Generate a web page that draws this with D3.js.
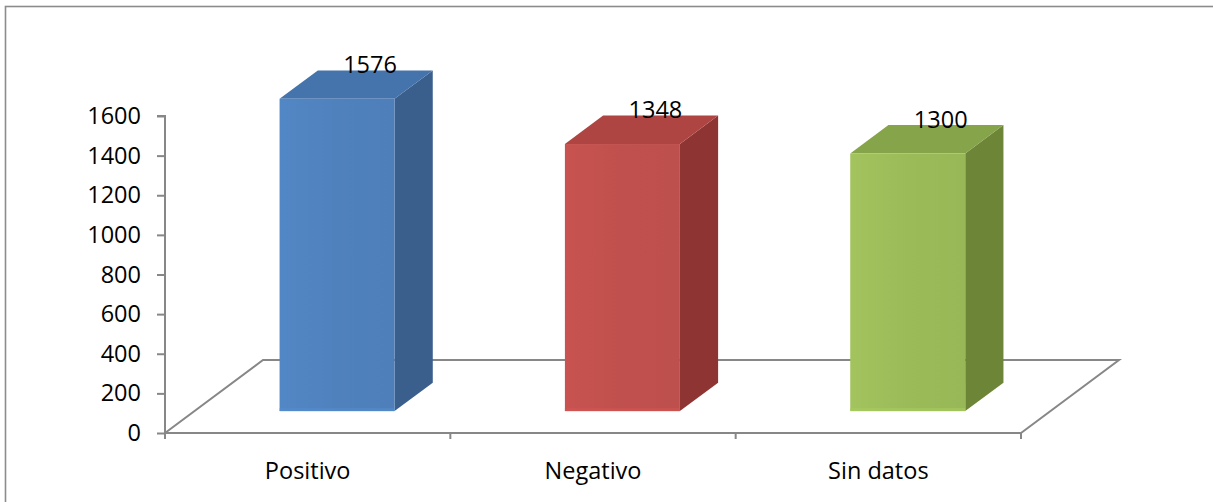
<!DOCTYPE html>
<html>
<head>
<meta charset="utf-8">
<script src="https://cdn.jsdelivr.net/npm/d3@7"></script>
<style>
  html, body { margin: 0; padding: 0; background: #fff; }
  svg { display: block; }
  text { font-family: "Open Sans", "Noto Sans", sans-serif; fill: #000; }
</style>
</head>
<body>
<svg id="chart" width="1213" height="502"></svg>
<script>
// Chart data
const categories = ["Positivo", "Negativo", "Sin datos"];
const values = [1576, 1348, 1300];
const yTicks = [0, 200, 400, 600, 800, 1000, 1200, 1400, 1600];

// Bar palettes: front, side, top
const frontColors = ["#4F81BD", "#C0504D", "#9BBB59"];
const sideColors  = ["#3A5F8D", "#8E3533", "#6C8536"];
const topColors   = ["#4573AC", "#AE4542", "#86A449"];

const fontSize = 23.5;
const svg = d3.select("#chart");

// Plot geometry (front plane of the floor)
const plot = { left: 165, right: 1021, top: 116, bottom: 433 };
const depth = { dx: 98, dy: -73 };           // floor depth vector
const barDepthStart = 0.30, barDepthSize = 0.39;

const x = d3.scaleBand().domain(categories).range([plot.left, plot.right]).paddingInner(0).paddingOuter(0);
const y = d3.scaleLinear().domain([0, 1600]).range([plot.bottom, plot.top]);

// Outer frame
svg.append("rect")
  .attr("x", 5.5).attr("y", 6.5).attr("width", 1400).attr("height", 700)
  .attr("fill", "none").attr("stroke", "#8c8c8c").attr("stroke-width", 1.6);

const gridColor = "#878787";

// Floor outline
const floorPts = [
  [plot.left, plot.bottom],
  [plot.left + depth.dx, plot.bottom + depth.dy],
  [plot.right + depth.dx, plot.bottom + depth.dy],
  [plot.right, plot.bottom]
];
svg.append("path")
  .attr("d", d3.line()(floorPts))
  .attr("fill", "none").attr("stroke", gridColor).attr("stroke-width", 2);

// Value axis
const yAxis = svg.append("g")
  .attr("transform", `translate(${plot.left},0)`)
  .call(d3.axisLeft(y).tickValues(yTicks).tickSize(8).tickPadding(16).tickFormat(d3.format("d")));
yAxis.select(".domain").attr("stroke", gridColor).attr("stroke-width", 2)
  .attr("d", `M-8,${y(1600)}H0V${y(0)}`);
yAxis.selectAll(".tick line").attr("stroke", gridColor).attr("stroke-width", 2);
yAxis.selectAll(".tick text")
  .attr("font-size", fontSize).attr("font-family", "Open Sans, sans-serif").attr("fill", "#000");

// Category axis
const xAxis = svg.append("g")
  .attr("transform", `translate(0,${plot.bottom})`)
  .call(d3.axisBottom(x).tickSize(0).tickPadding(29));
xAxis.select(".domain").attr("stroke", gridColor).attr("stroke-width", 2)
  .attr("d", `M${plot.left},0H${plot.right}`);
xAxis.selectAll(".tick text")
  .attr("font-size", fontSize).attr("font-family", "Open Sans, sans-serif").attr("fill", "#000");
// Category separators
const bounds = categories.map(c => x(c)).concat([plot.right]);
svg.append("g").selectAll("line").data(bounds).join("line")
  .attr("x1", d => d).attr("x2", d => d)
  .attr("y1", plot.bottom).attr("y2", plot.bottom + 6)
  .attr("stroke", gridColor).attr("stroke-width", 2);

// Gradients for front faces
const defs = svg.append("defs");
frontColors.forEach((c, i) => {
  const g = defs.append("linearGradient").attr("id", "front" + i)
    .attr("x1", 0).attr("x2", 1).attr("y1", 0).attr("y2", 0);
  g.append("stop").attr("offset", "0%").attr("stop-color", d3.color(c).brighter(0.12));
  g.append("stop").attr("offset", "50%").attr("stop-color", c);
  g.append("stop").attr("offset", "100%").attr("stop-color", d3.color(c).darker(0.05));
});

// 3D bars
const barW = x.bandwidth() * 0.403;
const ox = depth.dx * barDepthStart, oy = depth.dy * barDepthStart;
const sx = depth.dx * barDepthSize, sy = depth.dy * barDepthSize;

const bars = svg.append("g").selectAll("g").data(categories).join("g");
bars.each(function(cat, i) {
  const g = d3.select(this);
  const cx = x(cat) + x.bandwidth() / 2 + ox;
  const x0 = cx - barW / 2, x1 = cx + barW / 2;
  const yb = y(0) + oy, yt = y(values[i]) + oy;
  // side
  g.append("path")
    .attr("d", d3.line()([[x1, yt], [x1 + sx, yt + sy], [x1 + sx, yb + sy], [x1, yb]]) + "Z")
    .attr("fill", sideColors[i]);
  // top
  g.append("path")
    .attr("d", d3.line()([[x0, yt], [x0 + sx, yt + sy], [x1 + sx, yt + sy], [x1, yt]]) + "Z")
    .attr("fill", topColors[i]);
  // front
  g.append("rect")
    .attr("x", x0).attr("y", yt).attr("width", barW).attr("height", yb - yt)
    .attr("fill", `url(#front${i})`);
  // subtle lighter bottom edge
  g.append("rect")
    .attr("x", x0).attr("y", yb - 3).attr("width", barW).attr("height", 3)
    .attr("fill", d3.color(frontColors[i]).brighter(0.25)).attr("opacity", 0.6);
  // value label
  g.append("text")
    .attr("x", cx + 33).attr("y", yt - 26)
    .attr("text-anchor", "middle")
    .attr("font-size", fontSize)
    .text(values[i]);
});
</script>
</body>
</html>
